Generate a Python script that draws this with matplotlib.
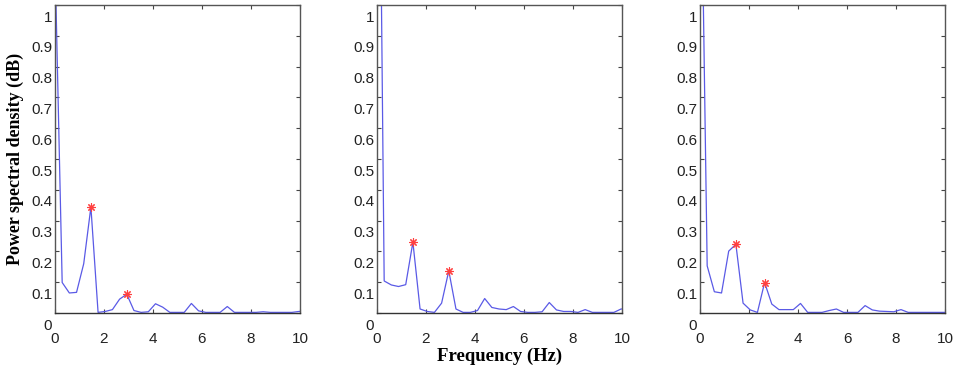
import numpy as np
import matplotlib
matplotlib.use("Agg")
import matplotlib.pyplot as plt
from matplotlib.transforms import ScaledTranslation

# frequency bins (Hz)
freq = np.arange(36) * 0.293

psd1 = [1.15, 0.099, 0.065, 0.067, 0.160, 0.344, 0.002, 0.005, 0.011, 0.045,
        0.061, 0.008, 0.002, 0.004, 0.030, 0.019, 0.002, 0.002, 0.002, 0.031,
        0.007, 0.002, 0.002, 0.002, 0.021, 0.002, 0.002, 0.002, 0.002, 0.004,
        0.002, 0.002, 0.002, 0.002, 0.005, 0.005]
psd2 = [2.5, 0.104, 0.091, 0.086, 0.092, 0.230, 0.013, 0.005, 0.002, 0.032,
        0.137, 0.013, 0.002, 0.002, 0.008, 0.047, 0.018, 0.013, 0.011, 0.021,
        0.005, 0.002, 0.002, 0.004, 0.034, 0.010, 0.005, 0.005, 0.002, 0.011,
        0.002, 0.002, 0.002, 0.002, 0.013, 0.013]
psd3 = [1.75, 0.153, 0.069, 0.065, 0.201, 0.223, 0.032, 0.010, 0.002, 0.099,
        0.029, 0.011, 0.011, 0.011, 0.031, 0.002, 0.002, 0.002, 0.008, 0.013,
        0.002, 0.002, 0.002, 0.024, 0.010, 0.006, 0.005, 0.004, 0.011, 0.002,
        0.002, 0.002, 0.002, 0.002, 0.002, 0.002]
peaks1 = [5, 10]
peaks2 = [5, 10]
peaks3 = [5, 9]

yticks = np.arange(0, 1.01, 0.1)
ylabels = ['0', '0.1', '0.2', '0.3', '0.4', '0.5', '0.6', '0.7', '0.8', '0.9', '1']
xticks = [0, 2, 4, 6, 8, 10]

fig = plt.figure(figsize=(9.57, 3.69), dpi=100)
lefts = [55/957, 377/957, 700/957]
series = [(psd1, peaks1), (psd2, peaks2), (psd3, peaks3)]

for left, (psd, pk) in zip(lefts, series):
    ax = fig.add_axes([left, 56/369, 245/957, 308/369])
    psd = np.array(psd)
    ax.plot(freq, psd, color='#5a5ae6', lw=0.9)
    ax.plot(freq[pk], psd[pk], ls='none', marker=(8, 2, 0), ms=6,
            mec='#ff4040', mew=0.8)
    ax.set_xlim(0, 10)
    ax.set_ylim(0, 1.0)
    ax.set_xticks(xticks)
    ax.set_xticklabels([str(t) for t in xticks])
    ax.set_yticks(yticks)
    ax.set_yticklabels(ylabels)
    ax.tick_params(direction='in', length=3, width=0.8, color='#444444',
                   top=True, right=True, labelsize=11, labelcolor='#222222',
                   labelfontfamily='Liberation Sans')
    ax.tick_params(axis='x', pad=14)
    ax.tick_params(axis='y', pad=2)
    # MATLAB-style labels sit a little below their ticks
    off = ScaledTranslation(0, -11/100, fig.dpi_scale_trans)
    for lab in ax.get_yticklabels():
        lab.set_transform(lab.get_transform() + off)
    for s in ax.spines.values():
        s.set_color('#555555')
        s.set_linewidth(1.0)
    ax.spines['bottom'].set_color('#333333')
    if left == lefts[0]:
        ax.set_ylabel('Power spectral density (dB)', family='Liberation Serif',
                      fontweight='bold', fontsize=13, labelpad=5)
    if left == lefts[1]:
        ax.set_xlabel('Frequency (Hz)', family='Liberation Serif',
                      fontweight='bold', fontsize=13.5, labelpad=1)

fig.savefig('out.png', dpi=100)
